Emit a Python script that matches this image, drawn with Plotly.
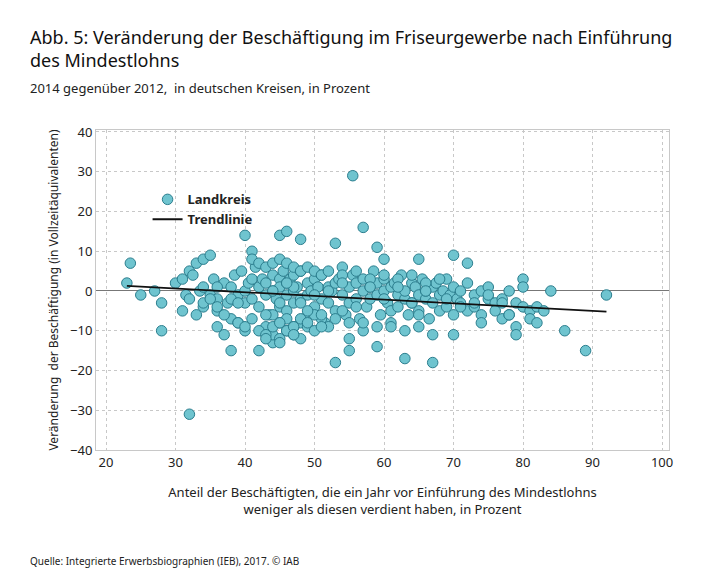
import plotly.graph_objects as go

# Landkreise: Anteil Geringverdiener (x) und Veraenderung Beschaeftigung (y)
anteil = [
    23, 23.5, 25, 27, 28, 28, 30, 31, 32, 32, 33, 34, 35, 40, 41, 45, 46, 48, 53, 55.5,
    57, 59, 60, 65, 70, 72, 80, 84, 86, 89, 92, 38, 42, 53, 63, 67, 37, 44, 59, 55,
    31, 31.5, 32, 32.5, 33, 33.5, 34, 34, 35, 35.5, 36, 36, 37, 37.5, 38, 38, 38.5, 39, 39.5, 40,
    40, 40.5, 41, 41, 41.5, 42, 42, 42.5, 43, 43, 43.5, 44, 44, 44.5, 45, 45, 45, 45.5, 46, 46,
    46, 46.5, 47, 47, 47, 47.5, 48, 48, 48.5, 49, 49, 49.5, 50, 50, 50.5, 51, 51, 51.5, 52, 52,
    52.5, 53, 53, 53.5, 54, 54, 54.5, 55, 55, 55.5, 56, 56, 56.5, 57, 57, 57.5, 58, 58, 58.5, 59,
    59, 59.5, 60, 60, 60.5, 61, 61, 61.5, 62, 62, 62.5, 63, 63, 63.5, 64, 64, 64.5, 65, 65, 65.5,
    66, 66, 66.5, 67, 67, 67.5, 68, 68, 68.5, 69, 69, 69.5, 70, 70, 70.5, 71, 71, 72, 72, 73,
    73, 74, 74, 75, 75, 76, 76, 77, 77, 78, 78, 79, 79, 80, 80, 81, 81, 82, 82, 83,
    36, 37, 39, 40, 41, 43, 44, 44, 45, 45, 46, 46, 47, 47, 48, 48, 49, 50, 51, 52,
    41, 42, 43, 44, 45, 46, 47, 48, 49, 50, 51, 52, 54, 56, 58, 60, 62, 64, 66, 68,
    39, 40, 42, 43, 44, 45, 46, 47, 48, 49, 50, 51, 53, 55, 57, 59, 61, 63, 65, 67,
    34, 36, 38, 43, 45, 47, 49, 51, 54, 56, 58, 60, 62, 64, 66, 69, 71, 73, 75, 78,
    35, 36, 39, 44, 46, 48, 50, 52, 54, 57, 61, 65, 70, 74, 77, 79, 43, 45, 47, 55,
]
veraenderung = [
    2, 7, -1, 0, -3, -10, 2, 3, -31, 5, 7, 8, 9, 14, 10, 14, 15, 13, 12, 29,
    16, 11, 8, 8, 9, 7, 3, 0, -10, -15, -1, -15, -15, -18, -17, -18, -11, -13, -14, -15,
    -5, -1, -2, 4, -6, 0, 1, -4, -1, 3, -2, -5, 2, -3, 1, -7, 4, -1, 5, 0,
    -3, 2, 3, -2, 6, 1, -4, 3, -1, 2, -6, 4, 0, -2, 3, 1, -4, 5, 2, -1,
    -5, 3, 0, 4, -3, 1, -2, 5, -7, 2, -1, 0, 3, -4, 1, -2, 4, -8, 1, -3,
    0, 2, -5, 3, -1, 6, -6, 1, -3, 4, -2, 2, -7, 0, 3, -4, 1, -2, 5, -1,
    2, -6, 0, 3, -3, 1, -5, 2, -1, -4, 4, -2, 0, -6, 2, -3, 1, -1, -5, 3,
    -2, 0, -7, 1, -3, 2, -1, -5, 0, 3, -4, -1, 1, -6, -2, 0, -3, 2, -5, -1,
    -4, 0, -6, -2, 1, -3, -5, -2, -7, 0, -6, -3, -9, 1, -4, -5, -7, -4, -8, -5,
    -9, -6, -8, -10, -7, -9, -11, -6, -12, -8, -10, -7, -9, -11, -8, -12, -9, -10, -7, -9,
    8, 7, 6, 7, 8, 7, 6, 5, 6, 5, 4, 5, 4, 5, 3, 4, 3, 4, 2, 3,
    -8, -9, -10, -11, -9, -8, -10, -9, -7, -8, -6, -9, -7, -8, -10, -9, -8, -10, -9, -11,
    -3, 1, -2, -6, -3, 1, -5, -6, 2, -4, 1, -2, 1, -3, 0, -2, -4, -3, -1, -6,
    -2, -4, -3, 0, 2, -3, -1, 0, -5, -8, -9, -6, -11, -8, -3, -11, -12, -13, -11, -12,
]
trend_x = [23, 92]
trend_y = [1.3, -5.2]

fig = go.Figure()
fig.add_trace(go.Scatter(
    x=anteil, y=veraenderung, mode="markers", name="<b>Landkreis</b>",
    marker=dict(size=10.5, color="#6fc4cf", line=dict(color="#2b7e8e", width=1)),
))
fig.add_trace(go.Scatter(
    x=trend_x, y=trend_y, mode="lines", name="<b>Trendlinie</b>",
    line=dict(color="#111111", width=1.8),
))

font = "Noto Sans, Lato, sans-serif"
fig.update_layout(
    width=711, height=574, plot_bgcolor="white", paper_bgcolor="white",
    margin=dict(l=88, r=50, t=122, b=132, autoexpand=False),
    font=dict(family=font, size=13, color="#222"),
    showlegend=True,
    legend=dict(x=0.09, y=0.83, xanchor="left", yanchor="top", bgcolor="rgba(0,0,0,0)",
                font=dict(size=13, color="#222")),
    xaxis=dict(range=[18.56, 101], tickvals=[20, 30, 40, 50, 60, 70, 80, 90, 100],
               showgrid=True, gridcolor="#c8c8c8", griddash="dot", automargin=False,
               zeroline=False, showline=True, linecolor="#c8c8c8", mirror=True,
               title=dict(text="Anteil der Beschäftigten, die ein Jahr vor Einführung des Mindestlohns<br>weniger als diesen verdient haben, in Prozent",
                          font=dict(size=13), standoff=18)),
    yaxis=dict(range=[-40, 40.5], tickvals=[-40, -30, -20, -10, 0, 10, 20, 30, 40],
               showgrid=True, gridcolor="#c8c8c8", griddash="dot", automargin=False,
               zeroline=True, zerolinecolor="#777", zerolinewidth=1,
               showline=True, linecolor="#c8c8c8", mirror=True,
               title=dict(text="Veränderung  der Beschäftigung (in Vollzeitäquivalenten)",
                          font=dict(size=12), standoff=8)),
)
fig.add_annotation(text="Abb. 5: Veränderung der Beschäftigung im Friseurgewerbe nach Einführung<br>des Mindestlohns",
                   xref="paper", yref="paper", x=-0.118, y=1.335, xanchor="left", yanchor="top",
                   showarrow=False, align="left", font=dict(size=18, color="#111"))
fig.add_annotation(text="2014 gegenüber 2012,  in deutschen Kreisen, in Prozent",
                   xref="paper", yref="paper", x=-0.118, y=1.165, xanchor="left", yanchor="top",
                   showarrow=False, align="left", font=dict(size=13, color="#222"))
fig.add_annotation(text="Quelle: Integrierte Erwerbsbiographien (IEB), 2017. © IAB",
                   xref="paper", yref="paper", x=-0.118, y=-0.32, xanchor="left", yanchor="top",
                   showarrow=False, align="left", font=dict(size=10, color="#222"))
fig.write_html("out.html")
